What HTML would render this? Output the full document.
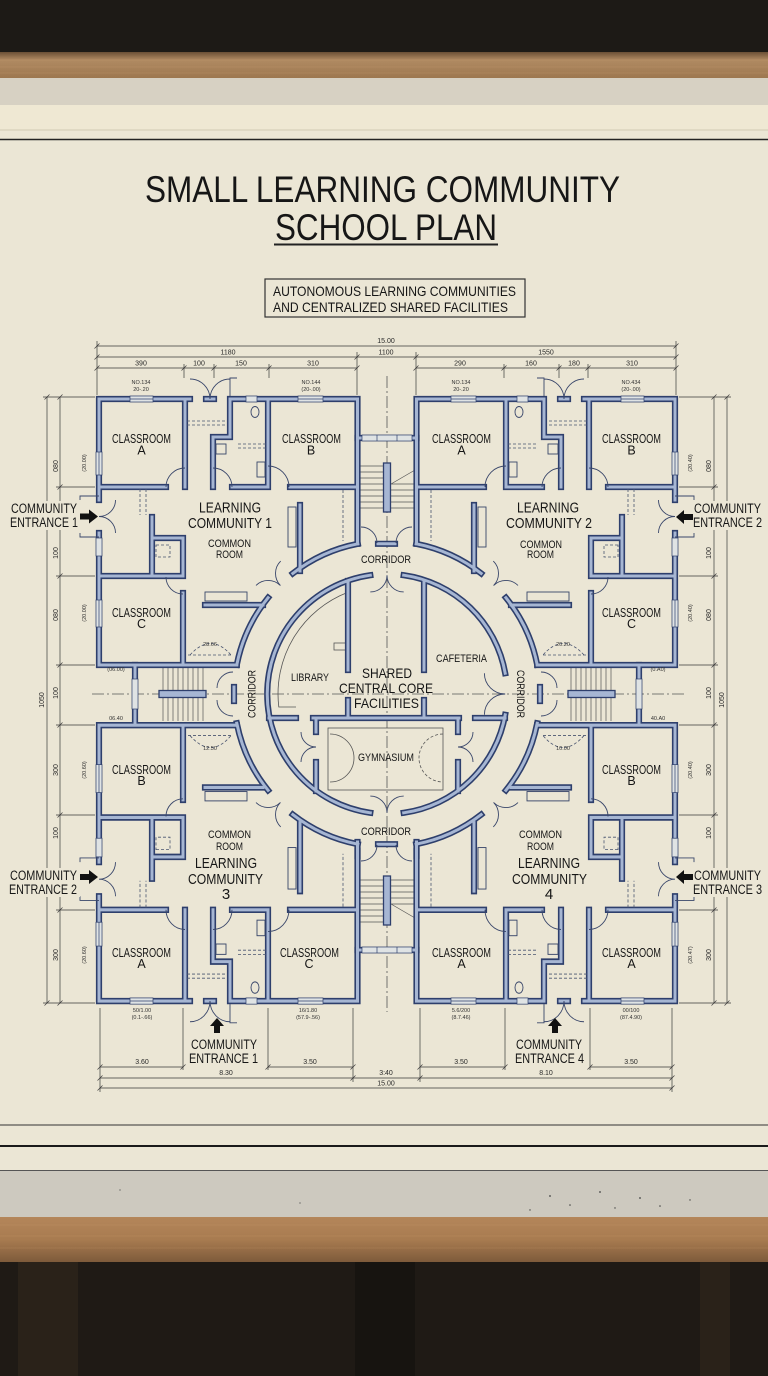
<!DOCTYPE html>
<html><head><meta charset="utf-8"><style>
html,body{margin:0;padding:0;background:#1d1a16;}
svg{display:block;}
text{font-family:"Liberation Sans",Arial,sans-serif;fill:#161616;}
.s{font-size:5.5px;fill:#333;text-anchor:middle;}
.d{font-size:7px;fill:#2a2a2a;text-anchor:middle;}
</style></head><body>
<svg xmlns="http://www.w3.org/2000/svg" width="768" height="1376" viewBox="0 0 768 1376">
<defs>
<linearGradient id="woodT" x1="0" y1="0" x2="0" y2="1"><stop offset="0" stop-color="#6a4f35"/><stop offset="0.3" stop-color="#b08a62"/><stop offset="1" stop-color="#9c774f"/></linearGradient>
<linearGradient id="woodB" x1="0" y1="0" x2="0" y2="1"><stop offset="0" stop-color="#b4865a"/><stop offset="0.5" stop-color="#a87b50"/><stop offset="1" stop-color="#7e5b3b"/></linearGradient>
<g id="qw"><path d="M99 399H190 M206 399H214 M230 399H357.5V543.8 M99 399V500 M99 533V665H236.8 M185 399V487 M99 487H166 M230 399V437H213V487 M232 487H268 M268 399V487 M290 487H357.5 M152 517V575 M152 538H183V575 M99 576H183 M183 593V665 M300 505V571 M205 605H263"/></g>
<g id="qr"><path d="M236.8 664.8A153 153 0 0 1 268.1 597.7 M292.8 573.4A153 153 0 0 1 357.8 543.8"/></g>
<g id="gw"><path d="M403.7 575.2A120 120 0 0 1 505.2 673.2 M505.2 714.8A120 120 0 0 1 403.7 812.8 M370.3 812.8A120 120 0 0 1 370.3 575.2 M348 581V670 M424 581V670 M348 700V718 M424 700V718 M269 718H296 M313 718H459 M475 718H505 M316 718V732 M316 762V791 M458 718V732 M458 762V791 M357.5 438H416.5 M357.5 950H416.5 M357.5 842V856 M416.5 842V856 M135 665V723 M639 665V723 M234 687V701 M540 687V701 M378 543.8H395 M378 844.2H395"/></g>
<g id="W">
<use href="#qw"/>
<use href="#qw" transform="matrix(-1 0 0 1 774 0)"/>
<use href="#qw" transform="matrix(1 0 0 -1.037 0 1414.8)"/>
<use href="#qw" transform="matrix(-1 0 0 -1.037 774 1414.8)"/>
<use href="#qr"/>
<use href="#qr" transform="matrix(-1 0 0 1 774 0)"/>
<use href="#qr" transform="matrix(1 0 0 -1 0 1388)"/>
<use href="#qr" transform="matrix(-1 0 0 -1 774 1388)"/>
<use href="#gw"/>
</g>
<g id="qwin"><rect x="130" y="396" width="23" height="6"/><rect x="298" y="396" width="25" height="6"/><rect x="246" y="396" width="11" height="6"/><rect x="96" y="452" width="6" height="23"/><rect x="96" y="538" width="6" height="18"/><rect x="96" y="600" width="6" height="27"/><path d="M130 399H153 M298 399H323 M99 452V475 M99 600V627" fill="none"/></g>
<g id="qd"><path d="M166 487A19 19 0 0 1 185 468 M232 487A19 19 0 0 0 213 468 M268 466A21 21 0 0 1 289 487 M166 577A17 17 0 0 0 183 594 M115.5 500A16.5 16.5 0 0 1 99 516.5A16.5 16.5 0 0 1 115.5 533 M99 496H80V500 M99 537H80V533 M190 379A20 20 0 0 1 210 399A20 20 0 0 1 230 379 M230 396V378H237"/><ellipse cx="255" cy="412" rx="4" ry="5.5"/><rect x="216" y="444" width="10" height="10"/><rect x="257" y="462" width="8" height="15"/><rect x="288" y="507" width="8" height="40"/><rect x="205" y="592" width="42" height="9"/></g>
<g id="qdash"><path d="M343 490V541 M140 489V515 M146 489V515 M187 421H226 M187 425H226 M238 444H266 M238 448H266 M188 655H233 M190 655Q211 632 231 655"/><rect x="156" y="545" width="14" height="12"/></g>
<g id="qrd"><path d="M256 585.4A17.3 17.3 0 0 1 280.45 585.55A17.3 17.3 0 0 1 280.7 561.1"/></g>
</defs>

<rect width="768" height="1376" fill="#1d1a16"/>
<rect y="52" width="768" height="27" fill="url(#woodT)"/>
<path d="M0 60H768 M0 67H768 M0 73H768" stroke="#c59c70" stroke-width="0.6" opacity="0.5"/>
<rect y="78" width="768" height="28" fill="#d7d1c3"/>
<rect y="105" width="768" height="1066" fill="#ebe6d5"/>
<rect y="105" width="768" height="25" fill="#efe8d3"/>
<line x1="0" y1="130" x2="768" y2="130" stroke="#d2cab3" stroke-width="1"/>
<line x1="0" y1="139.5" x2="768" y2="139.5" stroke="#222" stroke-width="1.4"/>
<line x1="0" y1="1125" x2="768" y2="1125" stroke="#333" stroke-width="1"/>
<line x1="0" y1="1146" x2="768" y2="1146" stroke="#1a1a1a" stroke-width="2"/>
<rect y="1170" width="768" height="48" fill="#cdc9bf"/>
<line x1="0" y1="1170.5" x2="768" y2="1170.5" stroke="#555" stroke-width="1"/>
<g fill="#444"><circle cx="550" cy="1196" r="0.9"/><circle cx="570" cy="1205" r="0.8"/><circle cx="600" cy="1192" r="0.9"/><circle cx="615" cy="1208" r="0.7"/><circle cx="640" cy="1198" r="0.9"/><circle cx="660" cy="1206" r="0.8"/><circle cx="530" cy="1210" r="0.7"/><circle cx="690" cy="1200" r="0.7"/><circle cx="120" cy="1190" r="0.6"/><circle cx="300" cy="1203" r="0.6"/></g>
<rect y="1217" width="768" height="45" fill="url(#woodB)"/>
<path d="M0 1225H768 M0 1236H768 M0 1248H768" stroke="#c99d6e" stroke-width="0.6" opacity="0.45"/>
<rect y="1262" width="768" height="114" fill="#1f1a15"/>
<rect x="18" y="1262" width="60" height="114" fill="#2a2219"/>
<rect x="355" y="1262" width="60" height="114" fill="#171410"/>
<rect x="700" y="1262" width="30" height="114" fill="#2a2219"/>

<text x="145" y="202" font-size="37" textLength="475" lengthAdjust="spacingAndGlyphs">SMALL LEARNING COMMUNITY</text>
<text x="275" y="240" font-size="37" textLength="222" lengthAdjust="spacingAndGlyphs">SCHOOL PLAN</text>
<rect x="274" y="243.5" width="224" height="2" fill="#222"/>
<rect x="265" y="279" width="260" height="38" fill="none" stroke="#333" stroke-width="1.2"/>
<text x="273" y="296" font-size="14" textLength="243" lengthAdjust="spacingAndGlyphs">AUTONOMOUS LEARNING COMMUNITIES</text>
<text x="273" y="312" font-size="14" textLength="235" lengthAdjust="spacingAndGlyphs">AND CENTRALIZED SHARED FACILITIES</text>

<g stroke="#3a3a3a" stroke-width="0.7" fill="none">
<path d="M97 346H676 M97 357H676 M97 368H357 M416 368H676 M97 341V395 M676 341V395 M357 352V395 M416 352V395 M184 364V378 M214 364V378 M269 364V378 M504 364V378 M559 364V378 M588 364V378"/>
<path d="M94.5 348.5L99.5 343.5 M673.5 348.5L678.5 343.5 M94.5 359.5L99.5 354.5 M354.5 359.5L359.5 354.5 M413.5 359.5L418.5 354.5 M673.5 359.5L678.5 354.5 M94.5 370.5L99.5 365.5 M181.5 370.5L186.5 365.5 M211.5 370.5L216.5 365.5 M266.5 370.5L271.5 365.5 M354.5 370.5L359.5 365.5 M413.5 370.5L418.5 365.5 M501.5 370.5L506.5 365.5 M556.5 370.5L561.5 365.5 M585.5 370.5L590.5 365.5 M673.5 370.5L678.5 365.5"/>
<path d="M47 397V1003 M60 397V1003 M43 397H95 M43 1003H95 M56 487H95 M56 576H95 M56 665H95 M56 725H95 M56 815H95 M56 910H95"/>
<path d="M44.5 399.5L49.5 394.5 M44.5 1005.5L49.5 1000.5 M57.5 399.5L62.5 394.5 M57.5 489.5L62.5 484.5 M57.5 578.5L62.5 573.5 M57.5 667.5L62.5 662.5 M57.5 727.5L62.5 722.5 M57.5 817.5L62.5 812.5 M57.5 912.5L62.5 907.5 M57.5 1005.5L62.5 1000.5"/>
<path d="M727 397V1003 M714 397V1003 M679 397H731 M679 1003H731 M679 487H718 M679 576H718 M679 665H718 M679 725H718 M679 815H718 M679 910H718"/>
<path d="M724.5 399.5L729.5 394.5 M724.5 1005.5L729.5 1000.5 M711.5 399.5L716.5 394.5 M711.5 489.5L716.5 484.5 M711.5 578.5L716.5 573.5 M711.5 667.5L716.5 662.5 M711.5 727.5L716.5 722.5 M711.5 817.5L716.5 812.5 M711.5 912.5L716.5 907.5 M711.5 1005.5L716.5 1000.5"/>
<path d="M100 1067H183 M268 1067H353 M420 1067H505 M590 1067H672 M100 1078H672 M100 1088H672 M100 1008V1092 M183 1008V1070 M268 1008V1070 M353 1008V1082 M420 1008V1082 M505 1008V1070 M590 1008V1070 M672 1008V1092"/>
<path d="M97.5 1069.5L102.5 1064.5 M180.5 1069.5L185.5 1064.5 M265.5 1069.5L270.5 1064.5 M350.5 1069.5L355.5 1064.5 M417.5 1069.5L422.5 1064.5 M502.5 1069.5L507.5 1064.5 M587.5 1069.5L592.5 1064.5 M669.5 1069.5L674.5 1064.5 M97.5 1080.5L102.5 1075.5 M350.5 1080.5L355.5 1075.5 M417.5 1080.5L422.5 1075.5 M669.5 1080.5L674.5 1075.5 M97.5 1090.5L102.5 1085.5 M669.5 1090.5L674.5 1085.5"/>
</g>
<text class="d" x="386" y="343">15.00</text>
<text class="d" x="228" y="354.5">1180</text><text class="d" x="386" y="354.5">1100</text><text class="d" x="546" y="354.5">1550</text>
<text class="d" x="141" y="365.5">390</text><text class="d" x="199" y="365.5">100</text><text class="d" x="241" y="365.5">150</text><text class="d" x="313" y="365.5">310</text>
<text class="d" x="460" y="365.5">290</text><text class="d" x="531" y="365.5">160</text><text class="d" x="574" y="365.5">180</text><text class="d" x="632" y="365.5">310</text>
<text class="d" x="142" y="1064">3.60</text><text class="d" x="310" y="1064">3.50</text><text class="d" x="461" y="1064">3.50</text><text class="d" x="631" y="1064">3.50</text>
<text class="d" x="226" y="1075">8.30</text><text class="d" x="386" y="1075">3:40</text><text class="d" x="546" y="1075">8.10</text>
<text class="d" x="386" y="1085.5">15.00</text>
<g>
<text class="d" transform="translate(44,700) rotate(-90)">1050</text>
<text class="d" transform="translate(58,466) rotate(-90)">080</text>
<text class="d" transform="translate(58,553) rotate(-90)">100</text>
<text class="d" transform="translate(58,615) rotate(-90)">080</text>
<text class="d" transform="translate(58,693) rotate(-90)">100</text>
<text class="d" transform="translate(58,770) rotate(-90)">300</text>
<text class="d" transform="translate(58,833) rotate(-90)">100</text>
<text class="d" transform="translate(58,955) rotate(-90)">300</text>
<text class="d" transform="translate(724,700) rotate(-90)">1050</text>
<text class="d" transform="translate(711,466) rotate(-90)">080</text>
<text class="d" transform="translate(711,553) rotate(-90)">100</text>
<text class="d" transform="translate(711,615) rotate(-90)">080</text>
<text class="d" transform="translate(711,693) rotate(-90)">100</text>
<text class="d" transform="translate(711,770) rotate(-90)">300</text>
<text class="d" transform="translate(711,833) rotate(-90)">100</text>
<text class="d" transform="translate(711,955) rotate(-90)">300</text>
</g>

<path d="M387 376V1012 M92 694H684" stroke="#555" stroke-width="0.8" fill="none" stroke-dasharray="12 3 2 3"/>

<g stroke="#555" stroke-width="0.7" fill="none">
<path d="M359 466H383 M359 472H383 M359 478H383 M359 484H383 M359 490H383 M359 496H383 M359 502H383 M359 508H383 M391 484H415 M391 490H415 M391 496H415 M391 502H415 M391 508H415 M391 484L415 470"/>
<path d="M359 922H383 M359 916H383 M359 910H383 M359 904H383 M359 898H383 M359 892H383 M359 886H383 M359 880H383 M391 904H415 M391 898H415 M391 892H415 M391 886H415 M391 880H415 M391 904L415 918"/>
<path d="M163 667V721 M168 667V721 M173 667V721 M178 667V721 M183 667V721 M188 667V721 M193 667V721 M198 667V721 M203 667V721"/>
<path d="M571 667V721 M576 667V721 M581 667V721 M586 667V721 M591 667V721 M596 667V721 M601 667V721 M606 667V721 M611 667V721"/>
</g>

<g stroke="#555" stroke-width="0.8" fill="none">
<rect x="328" y="728" width="115" height="62"/>
<path d="M330 734A24 24 0 0 1 330 782"/>
<path d="M443 734A24 24 0 0 0 443 782" stroke-dasharray="3 2"/>
<path d="M296 707H278.8A109 109 0 0 1 348 592.2"/>
<rect x="334" y="643" width="13" height="7"/>
</g>

<use href="#W" fill="none" stroke="#2e3f6c" stroke-width="6.2" stroke-linecap="square"/>
<use href="#W" fill="none" stroke="#a6b6d3" stroke-width="3.0" stroke-linecap="square"/>

<g fill="#dfe3e4" stroke="#2e3f6c" stroke-width="0.7">
<use href="#qwin"/>
<use href="#qwin" transform="matrix(-1 0 0 1 774 0)"/>
<use href="#qwin" transform="matrix(1 0 0 -1.037 0 1414.8)"/>
<use href="#qwin" transform="matrix(-1 0 0 -1.037 774 1414.8)"/>
<rect x="362" y="435" width="50" height="6"/><rect x="362" y="947" width="50" height="6"/>
<rect x="132" y="679" width="6" height="30"/><rect x="636" y="679" width="6" height="30"/>
<path d="M377 435V441 M397 435V441 M377 947V953 M397 947V953" fill="none"/>
</g>
<g fill="#a6b6d3" stroke="#2e3f6c" stroke-width="1.3">
<rect x="383.5" y="463" width="7" height="49"/><rect x="383.5" y="876" width="7" height="49"/>
<rect x="159" y="690.5" width="47" height="7"/><rect x="568" y="690.5" width="47" height="7"/>
</g>

<g fill="none" stroke="#39466a" stroke-width="0.9">
<use href="#qd"/>
<use href="#qd" transform="matrix(-1 0 0 1 774 0)"/>
<use href="#qd" transform="matrix(1 0 0 -1.037 0 1414.8)"/>
<use href="#qd" transform="matrix(-1 0 0 -1.037 774 1414.8)"/>
<use href="#qrd"/>
<use href="#qrd" transform="matrix(-1 0 0 1 774 0)"/>
<use href="#qrd" transform="matrix(1 0 0 -1 0 1388)"/>
<use href="#qrd" transform="matrix(-1 0 0 -1 774 1388)"/>
<path d="M370.3 591.9A16.7 16.7 0 0 0 387 575.2A16.7 16.7 0 0 0 403.7 591.9 M370.3 796.1A16.7 16.7 0 0 1 387 812.8A16.7 16.7 0 0 1 403.7 796.1 M484.4 673.2A20.8 20.8 0 0 0 505.2 694A20.8 20.8 0 0 0 484.4 714.8 M301 732A15 15 0 0 0 316 747A15 15 0 0 0 301 762 M473 732A15 15 0 0 1 458 747A15 15 0 0 1 473 762 M233 672A16 16 0 0 0 217 688 M217 700A16 16 0 0 0 233 716 M541 672A16 16 0 0 1 557 688 M557 700A16 16 0 0 1 541 716 M361 527A16 16 0 0 1 377 543 M396 543A16 16 0 0 1 412 527 M361 861A16 16 0 0 0 377 845 M396 845A16 16 0 0 0 412 861"/>
</g>
<g fill="none" stroke="#4a5570" stroke-width="0.8" stroke-dasharray="3 2">
<use href="#qdash"/>
<use href="#qdash" transform="matrix(-1 0 0 1 774 0)"/>
<use href="#qdash" transform="matrix(1 0 0 -1.037 0 1414.8)"/>
<use href="#qdash" transform="matrix(-1 0 0 -1.037 774 1414.8)"/>
</g>

<text class="s" x="141" y="384">NO.134</text><text class="s" x="141" y="391">20-.20</text>
<text class="s" x="311" y="384">NO.144</text><text class="s" x="311" y="391">(20-.00)</text>
<text class="s" x="461" y="384">NO.134</text><text class="s" x="461" y="391">20-.20</text>
<text class="s" x="631" y="384">NO.434</text><text class="s" x="631" y="391">(20-.00)</text>
<text class="s" x="142" y="1012">50/1.00</text><text class="s" x="142" y="1019">(0.1-.66)</text>
<text class="s" x="308" y="1012">16/1.80</text><text class="s" x="308" y="1019">(57.9-.56)</text>
<text class="s" x="461" y="1012">5.6/200</text><text class="s" x="461" y="1019">(8.7.46)</text>
<text class="s" x="631" y="1012">00/100</text><text class="s" x="631" y="1019">(87.4.90)</text>
<text class="s" x="116" y="671">(06.00)</text><text class="s" x="116" y="720">06.40</text>
<text class="s" x="658" y="671">(0.A0)</text><text class="s" x="658" y="720">40.A0</text>
<text class="s" x="210" y="646">28.66</text><text class="s" x="210" y="750">12.50</text>
<text class="s" x="563" y="646">20.20</text><text class="s" x="563" y="750">10.00</text>
<text class="s" transform="translate(86,463) rotate(-90)">(20.00)</text>
<text class="s" transform="translate(86,613) rotate(-90)">(20.00)</text>
<text class="s" transform="translate(86,770) rotate(-90)">(20.60)</text>
<text class="s" transform="translate(86,955) rotate(-90)">(20.60)</text>
<text class="s" transform="translate(692,463) rotate(-90)">(20.40)</text>
<text class="s" transform="translate(692,613) rotate(-90)">(20.40)</text>
<text class="s" transform="translate(692,770) rotate(-90)">(20.40)</text>
<text class="s" transform="translate(692,955) rotate(-90)">(20.47)</text>

<g fill="#ebe6d5">
<rect x="8" y="501" width="72" height="29"/><rect x="7" y="868" width="73" height="29"/>
<rect x="691" y="501" width="74" height="29"/><rect x="691" y="868" width="74" height="29"/>
</g>

<g fill="#111">
<polygon points="80,513.5 89,513.5 89,509.5 98,516.5 89,523.5 89,519.5 80,519.5"/>
<polygon points="80,874 89,874 89,870 98,877 89,884 89,880 80,880"/>
<polygon points="693,514 684,514 684,510 676,517 684,524 684,520 693,520"/>
<polygon points="693,874 684,874 684,870 676,877 684,884 684,880 693,880"/>
<polygon points="214,1033 214,1026 210,1026 217,1018 224,1026 220,1026 220,1033"/>
<polygon points="552,1033 552,1026 548,1026 555,1018 562,1026 558,1026 558,1033"/>
</g>

<g font-size="12.5">
<text x="112" y="443" textLength="59" lengthAdjust="spacingAndGlyphs">CLASSROOM</text><text x="141.5" y="454.5" text-anchor="middle">A</text>
<text x="282" y="443" textLength="59" lengthAdjust="spacingAndGlyphs">CLASSROOM</text><text x="311" y="454.5" text-anchor="middle">B</text>
<text x="112" y="617" textLength="59" lengthAdjust="spacingAndGlyphs">CLASSROOM</text><text x="141.5" y="628" text-anchor="middle">C</text>
<text x="432" y="443" textLength="59" lengthAdjust="spacingAndGlyphs">CLASSROOM</text><text x="461.5" y="454.5" text-anchor="middle">A</text>
<text x="602" y="443" textLength="59" lengthAdjust="spacingAndGlyphs">CLASSROOM</text><text x="631.5" y="454.5" text-anchor="middle">B</text>
<text x="602" y="617" textLength="59" lengthAdjust="spacingAndGlyphs">CLASSROOM</text><text x="631.5" y="628" text-anchor="middle">C</text>
<text x="112" y="774" textLength="59" lengthAdjust="spacingAndGlyphs">CLASSROOM</text><text x="141.5" y="785" text-anchor="middle">B</text>
<text x="112" y="957" textLength="59" lengthAdjust="spacingAndGlyphs">CLASSROOM</text><text x="141.5" y="968" text-anchor="middle">A</text>
<text x="280" y="957" textLength="59" lengthAdjust="spacingAndGlyphs">CLASSROOM</text><text x="309" y="968" text-anchor="middle">C</text>
<text x="602" y="774" textLength="59" lengthAdjust="spacingAndGlyphs">CLASSROOM</text><text x="631.5" y="785" text-anchor="middle">B</text>
<text x="432" y="957" textLength="59" lengthAdjust="spacingAndGlyphs">CLASSROOM</text><text x="461.5" y="968" text-anchor="middle">A</text>
<text x="602" y="957" textLength="59" lengthAdjust="spacingAndGlyphs">CLASSROOM</text><text x="631.5" y="968" text-anchor="middle">A</text>
</g>
<g font-size="15">
<text x="199" y="512.5" textLength="62" lengthAdjust="spacingAndGlyphs">LEARNING</text>
<text x="188" y="528" textLength="84" lengthAdjust="spacingAndGlyphs">COMMUNITY 1</text>
<text x="517" y="512.5" textLength="62" lengthAdjust="spacingAndGlyphs">LEARNING</text>
<text x="506" y="528" textLength="86" lengthAdjust="spacingAndGlyphs">COMMUNITY 2</text>
<text x="195" y="868" textLength="62" lengthAdjust="spacingAndGlyphs">LEARNING</text>
<text x="188" y="884" textLength="75" lengthAdjust="spacingAndGlyphs">COMMUNITY</text>
<text x="226" y="899" text-anchor="middle">3</text>
<text x="518" y="868" textLength="62" lengthAdjust="spacingAndGlyphs">LEARNING</text>
<text x="512" y="884" textLength="75" lengthAdjust="spacingAndGlyphs">COMMUNITY</text>
<text x="549" y="899" text-anchor="middle">4</text>
</g>
<g font-size="11">
<text x="208" y="547" textLength="43" lengthAdjust="spacingAndGlyphs">COMMON</text><text x="216" y="558" textLength="27" lengthAdjust="spacingAndGlyphs">ROOM</text>
<text x="520" y="548" textLength="42" lengthAdjust="spacingAndGlyphs">COMMON</text><text x="527" y="558" textLength="27" lengthAdjust="spacingAndGlyphs">ROOM</text>
<text x="208" y="838" textLength="43" lengthAdjust="spacingAndGlyphs">COMMON</text><text x="216" y="850" textLength="27" lengthAdjust="spacingAndGlyphs">ROOM</text>
<text x="519" y="838" textLength="43" lengthAdjust="spacingAndGlyphs">COMMON</text><text x="527" y="850" textLength="27" lengthAdjust="spacingAndGlyphs">ROOM</text>
<text x="291" y="681" textLength="38" lengthAdjust="spacingAndGlyphs">LIBRARY</text>
<text x="436" y="662" textLength="51" lengthAdjust="spacingAndGlyphs">CAFETERIA</text>
<text x="358" y="761" textLength="56" lengthAdjust="spacingAndGlyphs">GYMNASIUM</text>
<text x="361" y="563" textLength="50" lengthAdjust="spacingAndGlyphs">CORRIDOR</text>
<text x="361" y="835" textLength="50" lengthAdjust="spacingAndGlyphs">CORRIDOR</text>
<text transform="translate(255.5,718) rotate(-90)" textLength="48" lengthAdjust="spacingAndGlyphs">CORRIDOR</text>
<text transform="translate(517,670) rotate(90)" textLength="48" lengthAdjust="spacingAndGlyphs">CORRIDOR</text>
</g>
<g font-size="14">
<text x="362" y="678" textLength="50" lengthAdjust="spacingAndGlyphs">SHARED</text>
<text x="339" y="693" textLength="94" lengthAdjust="spacingAndGlyphs">CENTRAL CORE</text>
<text x="354" y="708" textLength="65" lengthAdjust="spacingAndGlyphs">FACILITIES</text>
</g>
<g font-size="13.5">
<text x="11" y="513" textLength="66" lengthAdjust="spacingAndGlyphs">COMMUNITY</text>
<text x="10" y="527" textLength="68" lengthAdjust="spacingAndGlyphs">ENTRANCE 1</text>
<text x="694" y="513" textLength="67" lengthAdjust="spacingAndGlyphs">COMMUNITY</text>
<text x="693" y="527" textLength="69" lengthAdjust="spacingAndGlyphs">ENTRANCE 2</text>
<text x="10" y="880" textLength="67" lengthAdjust="spacingAndGlyphs">COMMUNITY</text>
<text x="9" y="894" textLength="68" lengthAdjust="spacingAndGlyphs">ENTRANCE 2</text>
<text x="694" y="880" textLength="67" lengthAdjust="spacingAndGlyphs">COMMUNITY</text>
<text x="693" y="894" textLength="69" lengthAdjust="spacingAndGlyphs">ENTRANCE 3</text>
<text x="191" y="1049" textLength="66" lengthAdjust="spacingAndGlyphs">COMMUNITY</text>
<text x="189" y="1063" textLength="69" lengthAdjust="spacingAndGlyphs">ENTRANCE 1</text>
<text x="516" y="1049" textLength="66" lengthAdjust="spacingAndGlyphs">COMMUNITY</text>
<text x="515" y="1063" textLength="69" lengthAdjust="spacingAndGlyphs">ENTRANCE 4</text>
</g>
</svg>
</body></html>
